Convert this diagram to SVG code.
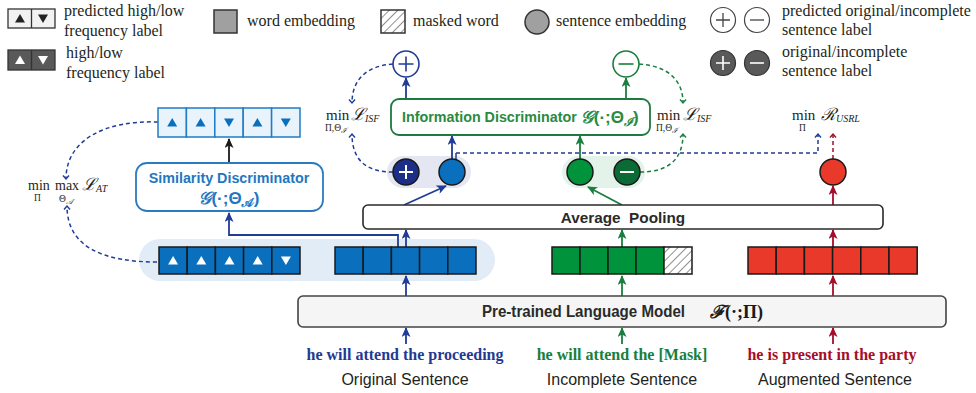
<svg xmlns="http://www.w3.org/2000/svg" width="976" height="393" viewBox="0 0 976 393">
<defs>
<style>
.lg{font-family:"Liberation Serif","Times New Roman",serif;font-size:16px;fill:#231f20}
.ttl{font-family:"Liberation Sans",Arial,sans-serif;font-weight:bold}
.mt{font-family:"Liberation Serif","DejaVu Serif",serif;fill:#231f20}
.cap{font-family:"Liberation Sans",Arial,sans-serif;font-size:16px;fill:#231f20}
.sent{font-family:"Liberation Serif","Times New Roman",serif;font-size:16px;font-weight:bold}
.cB{fill:#0a6fbd;stroke:#1a1a1a;stroke-width:1.5}
.cG{fill:#00933c;stroke:#1a1a1a;stroke-width:1.5}
.cR{fill:#e8392b;stroke:#1a1a1a;stroke-width:1.5}
.cP{fill:#e9f3fc;stroke:#1f7cc6;stroke-width:1.5}
.sN{fill:none;stroke:#203c96;stroke-width:1.8}
.sG{fill:none;stroke:#1a7f3e;stroke-width:1.8}
.sR{fill:none;stroke:#a50d2a;stroke-width:1.8}
.sK{fill:none;stroke:#1a1a1a;stroke-width:1.8}
.dN{fill:none;stroke:#203c96;stroke-width:1.5;stroke-dasharray:4 3}
.dG{fill:none;stroke:#1a7f3e;stroke-width:1.5;stroke-dasharray:4 3}
.dR{fill:none;stroke:#a50d2a;stroke-width:1.5;stroke-dasharray:4 3}
</style>
<path id="tu" d="M-5,4 L5,4 L0,-4.5 Z"/>
<path id="td" d="M-5,-4 L5,-4 L0,4.5 Z"/>
<pattern id="hatch" patternUnits="userSpaceOnUse" width="6" height="6" patternTransform="rotate(45)">
<line x1="0" y1="0" x2="0" y2="6" stroke="#333" stroke-width="1.1"/>
</pattern>
<marker id="aN" markerUnits="userSpaceOnUse" markerWidth="10" markerHeight="9" refX="9" refY="4.5" orient="auto"><path d="M0,0 L10,4.5 L0,9 L2.5,4.5 Z" fill="#203c96"/></marker>
<marker id="aG" markerUnits="userSpaceOnUse" markerWidth="10" markerHeight="9" refX="9" refY="4.5" orient="auto"><path d="M0,0 L10,4.5 L0,9 L2.5,4.5 Z" fill="#1a7f3e"/></marker>
<marker id="aR" markerUnits="userSpaceOnUse" markerWidth="10" markerHeight="9" refX="9" refY="4.5" orient="auto"><path d="M0,0 L10,4.5 L0,9 L2.5,4.5 Z" fill="#a50d2a"/></marker>
<marker id="aK" markerUnits="userSpaceOnUse" markerWidth="10" markerHeight="9" refX="9" refY="4.5" orient="auto"><path d="M0,0 L10,4.5 L0,9 L2.5,4.5 Z" fill="#1a1a1a"/></marker>
<marker id="oN" markerUnits="userSpaceOnUse" markerWidth="8" markerHeight="8" refX="4.5" refY="4" orient="auto"><path d="M1,1 L4.5,4 L1,7" fill="none" stroke="#203c96" stroke-width="1.4"/></marker>
<marker id="oG" markerUnits="userSpaceOnUse" markerWidth="8" markerHeight="8" refX="4.5" refY="4" orient="auto"><path d="M1,1 L4.5,4 L1,7" fill="none" stroke="#1a7f3e" stroke-width="1.4"/></marker>
<marker id="oR" markerUnits="userSpaceOnUse" markerWidth="8" markerHeight="8" refX="4.5" refY="4" orient="auto"><path d="M1,1 L4.5,4 L1,7" fill="none" stroke="#a50d2a" stroke-width="1.4"/></marker>
</defs>
<rect width="976" height="393" fill="#ffffff"/>

<!-- Legend -->
<g id="legend">
<g id="leg-pred-freq">
<rect x="8" y="9" width="47" height="19" fill="#f2f2f2" stroke="#333" stroke-width="1.3"/>
<line x1="31.5" y1="9" x2="31.5" y2="28" stroke="#333" stroke-width="1.3"/>
<use href="#tu" x="20" y="18.5" fill="#222"/>
<use href="#td" x="43" y="18.5" fill="#222"/>
<text class="lg" x="64" y="16">predicted high/low</text>
<text class="lg" x="64" y="36">frequency label</text>
</g>
<g id="leg-freq">
<rect x="8" y="50" width="47" height="20" fill="#595959" stroke="#333" stroke-width="1.3"/>
<line x1="31.5" y1="50" x2="31.5" y2="70" stroke="#333" stroke-width="1.3"/>
<use href="#tu" x="20" y="60" fill="#fff"/>
<use href="#td" x="43" y="60" fill="#fff"/>
<text class="lg" x="66" y="58">high/low</text>
<text class="lg" x="66" y="78">frequency label</text>
</g>
<g id="leg-word">
<rect x="214" y="10" width="23" height="23" fill="#a0a0a0" stroke="#333" stroke-width="1.5"/>
<text class="lg" x="247" y="26">word embedding</text>
</g>
<g id="leg-mask">
<rect x="381" y="10" width="24" height="23" fill="#fff" stroke="none"/>
<rect x="381" y="10" width="24" height="23" fill="url(#hatch)" stroke="#333" stroke-width="1.5"/>
<text class="lg" x="413" y="26">masked word</text>
</g>
<g id="leg-sent">
<circle cx="537" cy="22" r="12" fill="#a0a0a0" stroke="#333" stroke-width="1.5"/>
<text class="lg" x="556" y="26">sentence embedding</text>
</g>
<g id="leg-pred-sent">
<circle cx="723" cy="20" r="12.5" fill="#fff" stroke="#444" stroke-width="1.2"/>
<path d="M716,20 H730 M723,13 V27" stroke="#444" stroke-width="1.3"/>
<circle cx="757" cy="20" r="12.5" fill="#fff" stroke="#444" stroke-width="1.2"/>
<path d="M750,20 H764" stroke="#444" stroke-width="1.3"/>
<text class="lg" x="782" y="16">predicted original/incomplete</text>
<text class="lg" x="782" y="35">sentence label</text>
</g>
<g id="leg-sent-label">
<circle cx="723" cy="63" r="12.5" fill="#595959" stroke="#333" stroke-width="1.2"/>
<path d="M716,63 H730 M723,56 V70" stroke="#fff" stroke-width="1.6"/>
<circle cx="757" cy="63" r="12.5" fill="#595959" stroke="#333" stroke-width="1.2"/>
<path d="M750,63 H764" stroke="#fff" stroke-width="1.6"/>
<text class="lg" x="782" y="57">original/incomplete</text>
<text class="lg" x="782" y="76">sentence label</text>
</g>
</g>

<!-- Backgrounds -->
<rect id="bg-original" x="139" y="239" width="356" height="42" rx="21" fill="#e1ecf7"/>
<rect id="bg-blue-pair" x="387" y="156" width="84" height="32" rx="16" fill="#e4e7f2"/>
<rect id="bg-green-pair" x="562" y="156" width="83" height="32" rx="16" fill="#e3f3e9"/>

<!-- Connectors -->
<g id="connectors">
<line class="sK" x1="229" y1="162" x2="229" y2="139" marker-end="url(#aK)"/>
<path class="sN" d="M398,247 V235 H229 V213" marker-end="url(#aN)"/>
<line class="sN" x1="406" y1="247" x2="406" y2="230" marker-end="url(#aN)"/>
<line class="sN" x1="406" y1="296" x2="406" y2="276" marker-end="url(#aN)"/>
<line class="sN" x1="406" y1="344" x2="406" y2="328" marker-end="url(#aN)"/>
<line class="sG" x1="622" y1="247" x2="622" y2="230" marker-end="url(#aG)"/>
<line class="sG" x1="622" y1="296" x2="622" y2="276" marker-end="url(#aG)"/>
<line class="sG" x1="622" y1="344" x2="622" y2="328" marker-end="url(#aG)"/>
<line class="sR" x1="833" y1="247" x2="833" y2="230" marker-end="url(#aR)"/>
<line class="sR" x1="833" y1="296" x2="833" y2="276" marker-end="url(#aR)"/>
<line class="sR" x1="833" y1="344" x2="833" y2="328" marker-end="url(#aR)"/>
<line class="sN" x1="404" y1="205" x2="446" y2="186" marker-end="url(#aN)"/>
<line class="sG" x1="622" y1="205" x2="588" y2="187" marker-end="url(#aG)"/>
<line class="sR" x1="833" y1="205" x2="833" y2="186" marker-end="url(#aR)"/>
<line class="sN" x1="452" y1="159" x2="452" y2="136" marker-end="url(#aN)"/>
<line class="sG" x1="580" y1="159" x2="580" y2="136" marker-end="url(#aG)"/>
<line class="sN" x1="406" y1="99" x2="406" y2="78" marker-end="url(#aN)"/>
<line class="sG" x1="626" y1="99" x2="626" y2="78" marker-end="url(#aG)"/>
<path d="M456,160 V153" stroke="#203c96" stroke-width="1.5" fill="none"/>
<path class="dN" d="M456,153 H818 V134" marker-end="url(#oN)"/>
<path class="dR" d="M833,159 V134" marker-end="url(#oR)"/>
<path class="dN" d="M158,122 C105,120 66,140 66,179" marker-end="url(#oN)"/>
<path class="dN" d="M157,262 C105,262 67,248 67,206" marker-end="url(#oN)"/>
<path class="dN" d="M393,64 C366,66 352,80 352,103" marker-end="url(#oN)"/>
<path class="dN" d="M393,172 C366,172 352,160 352,134" marker-end="url(#oN)"/>
<path class="dG" d="M639,64 C668,66 683,80 683,103" marker-end="url(#oG)"/>
<path class="dG" d="M640,172 C668,172 683,160 683,134" marker-end="url(#oG)"/>
</g>

<!-- Predicted frequency label row -->
<g id="pred-freq-row">
<rect class="cP" x="158" y="108" width="28.4" height="29"/>
<rect class="cP" x="186.4" y="108" width="28.4" height="29"/>
<rect class="cP" x="214.8" y="108" width="28.4" height="29"/>
<rect class="cP" x="243.2" y="108" width="28.4" height="29"/>
<rect class="cP" x="271.6" y="108" width="28.4" height="29"/>
<use href="#tu" x="172.2" y="122.5" fill="#0a6fbd"/>
<use href="#tu" x="200.6" y="122.5" fill="#0a6fbd"/>
<use href="#td" x="229" y="122.5" fill="#0a6fbd"/>
<use href="#tu" x="257.4" y="122.5" fill="#0a6fbd"/>
<use href="#td" x="285.8" y="122.5" fill="#0a6fbd"/>
</g>

<!-- Similarity Discriminator -->
<g id="similarity-discriminator">
<rect x="136" y="163" width="187" height="48" rx="11" fill="#fff" stroke="#2b7bc4" stroke-width="1.8"/>
<text class="ttl" x="229" y="183" font-size="14.3" fill="#1f77c0" text-anchor="middle">Similarity Discriminator</text>
<text class="ttl" x="229" y="204" font-size="17" fill="#1f77c0" text-anchor="middle"><tspan font-family="'DejaVu Serif','Noto Sans Math',serif" font-style="italic">𝒢</tspan>(·;Θ<tspan font-size="12" dy="3" font-family="'DejaVu Serif','Noto Sans Math',serif">𝒜</tspan><tspan dy="-3">)</tspan></text>
</g>

<!-- Frequency label row -->
<g id="freq-label-row">
<rect class="cB" x="159" y="247" width="28.2" height="27"/>
<rect class="cB" x="187.2" y="247" width="28.2" height="27"/>
<rect class="cB" x="215.4" y="247" width="28.2" height="27"/>
<rect class="cB" x="243.6" y="247" width="28.2" height="27"/>
<rect class="cB" x="271.8" y="247" width="28.2" height="27"/>
<use href="#tu" x="173.1" y="260.5" fill="#fff"/>
<use href="#tu" x="201.3" y="260.5" fill="#fff"/>
<use href="#tu" x="229.5" y="260.5" fill="#fff"/>
<use href="#tu" x="257.7" y="260.5" fill="#fff"/>
<use href="#td" x="285.9" y="260.5" fill="#fff"/>
</g>

<!-- Word embeddings -->
<g id="orig-embedding">
<rect class="cB" x="335" y="247" width="28.2" height="27"/>
<rect class="cB" x="363.2" y="247" width="28.2" height="27"/>
<rect class="cB" x="391.4" y="247" width="28.2" height="27"/>
<rect class="cB" x="419.6" y="247" width="28.2" height="27"/>
<rect class="cB" x="447.8" y="247" width="28.2" height="27"/>
</g>
<g id="incomplete-embedding">
<rect class="cG" x="552" y="247" width="28" height="27"/>
<rect class="cG" x="580" y="247" width="28" height="27"/>
<rect class="cG" x="608" y="247" width="28" height="27"/>
<rect class="cG" x="636" y="247" width="28" height="27"/>
<rect x="664" y="247" width="28" height="27" fill="#fff"/>
<rect x="664" y="247" width="28" height="27" fill="url(#hatch)" stroke="#1a1a1a" stroke-width="1.5"/>
</g>
<g id="augmented-embedding">
<rect class="cR" x="748" y="247" width="28.2" height="27"/>
<rect class="cR" x="776.2" y="247" width="28.2" height="27"/>
<rect class="cR" x="804.4" y="247" width="28.2" height="27"/>
<rect class="cR" x="832.6" y="247" width="28.2" height="27"/>
<rect class="cR" x="860.8" y="247" width="28.2" height="27"/>
<rect class="cR" x="889" y="247" width="28.2" height="27"/>
</g>

<!-- Average Pooling -->
<g id="average-pooling">
<rect x="363" y="205" width="520" height="24" rx="5" fill="#fff" stroke="#2a2a2a" stroke-width="1.6"/>
<text class="ttl" x="623" y="223" font-size="15.3" fill="#2a2a2a" text-anchor="middle" xml:space="preserve">Average  Pooling</text>
</g>

<!-- Sentence embeddings -->
<g id="sent-emb-orig">
<circle cx="406" cy="172" r="13" fill="#1c2e87" stroke="#1a1a1a" stroke-width="1.5"/>
<path d="M399,172 H413 M406,165 V179" stroke="#fff" stroke-width="2"/>
<circle cx="452" cy="172" r="13" fill="#0a6fbd" stroke="#1a1a1a" stroke-width="1.5"/>
</g>
<g id="sent-emb-incomplete">
<circle cx="580" cy="172" r="13" fill="#00933c" stroke="#1a1a1a" stroke-width="1.5"/>
<circle cx="627" cy="172" r="13" fill="#0b6b34" stroke="#1a1a1a" stroke-width="1.5"/>
<path d="M620,172 H634" stroke="#fff" stroke-width="2"/>
</g>
<g id="sent-emb-aug">
<circle cx="833" cy="172" r="13" fill="#e8392b" stroke="#1a1a1a" stroke-width="1.5"/>
</g>

<!-- Information Discriminator -->
<g id="information-discriminator">
<rect x="391" y="99" width="259" height="36" rx="8" fill="#fff" stroke="#1e7a3e" stroke-width="1.8"/>
<text class="ttl" y="122" fill="#2a8a3f"><tspan x="402" font-size="14.3">Information Discriminator</tspan><tspan x="581" y="123" font-size="17" font-family="'DejaVu Serif','Noto Sans Math',serif" font-style="italic">𝒢</tspan><tspan font-size="17">(·;Θ</tspan><tspan font-size="12" dy="3" font-family="'DejaVu Serif',serif" font-style="italic">ℐ</tspan><tspan font-size="17" dy="-3">)</tspan></text>
</g>

<!-- Predicted sentence labels -->
<g id="pred-plus">
<circle cx="406" cy="64" r="13" fill="#fff" stroke="#203c96" stroke-width="1.6"/>
<path d="M398.5,64 H413.5 M406,56.5 V71.5" stroke="#203c96" stroke-width="1.6"/>
</g>
<g id="pred-minus">
<circle cx="626" cy="64" r="13" fill="#fff" stroke="#1a7f3e" stroke-width="1.6"/>
<path d="M618.5,64 H633.5" stroke="#1a7f3e" stroke-width="1.6"/>
</g>

<!-- Loss labels -->
<g id="loss-at">
<text class="mt" x="28" y="190" font-size="14">min</text>
<text class="mt" x="34" y="201" font-size="9.5">Π</text>
<text class="mt" x="55" y="190" font-size="14">max</text>
<text class="mt" x="59" y="202" font-size="9.5">Θ<tspan font-size="7.5" dy="2" font-style="italic">𝒜</tspan></text>
<text class="mt" x="82" y="190" font-size="17" font-style="italic">ℒ<tspan font-size="10" dy="2">AT</tspan></text>
</g>
<g id="loss-isf-left">
<text class="mt" x="326" y="120" font-size="15">min</text>
<text class="mt" x="325" y="131" font-size="9.5">Π,Θ<tspan font-size="7.5" dy="2" font-style="italic">ℐ</tspan></text>
<text class="mt" x="351" y="120" font-size="17" font-style="italic">ℒ<tspan font-size="10" dy="2">ISF</tspan></text>
</g>
<g id="loss-isf-right">
<text class="mt" x="657" y="120" font-size="15">min</text>
<text class="mt" x="656" y="131" font-size="9.5">Π,Θ<tspan font-size="7.5" dy="2" font-style="italic">ℐ</tspan></text>
<text class="mt" x="683" y="120" font-size="17" font-style="italic">ℒ<tspan font-size="10" dy="2">ISF</tspan></text>
</g>
<g id="loss-usrl">
<text class="mt" x="792" y="120" font-size="15">min</text>
<text class="mt" x="799" y="131" font-size="9.5">Π</text>
<text class="mt" x="821" y="120" font-size="17" font-style="italic">ℛ<tspan font-size="10" dy="2">USRL</tspan></text>
</g>

<!-- Pre-trained LM -->
<g id="plm">
<rect x="298" y="296" width="648" height="31" rx="5" fill="#f4f5f4" stroke="#444" stroke-width="1.6"/>
<text class="ttl" x="482" y="317" font-size="16" fill="#2a2a2a" textLength="203" lengthAdjust="spacingAndGlyphs">Pre-trained Language Model</text>
<text x="710" y="318" font-size="18" fill="#1a1a1a" font-family="'Liberation Serif','DejaVu Serif',serif" font-weight="bold"><tspan font-style="italic">ℱ</tspan>(·;Π)</text>
</g>

<!-- Sentences -->
<g id="sentence-original">
<text class="sent" x="405" y="360" fill="#1f3a93" text-anchor="middle">he will attend the proceeding</text>
<text class="cap" x="405" y="385" text-anchor="middle">Original Sentence</text>
</g>
<g id="sentence-incomplete">
<text class="sent" x="622" y="360" fill="#17803c" text-anchor="middle">he will attend the [Mask]</text>
<text class="cap" x="622" y="385" text-anchor="middle">Incomplete Sentence</text>
</g>
<g id="sentence-augmented">
<text class="sent" x="832" y="360" fill="#a50d2a" text-anchor="middle">he is present in the party</text>
<text class="cap" x="835" y="385" text-anchor="middle">Augmented Sentence</text>
</g>
</svg>
